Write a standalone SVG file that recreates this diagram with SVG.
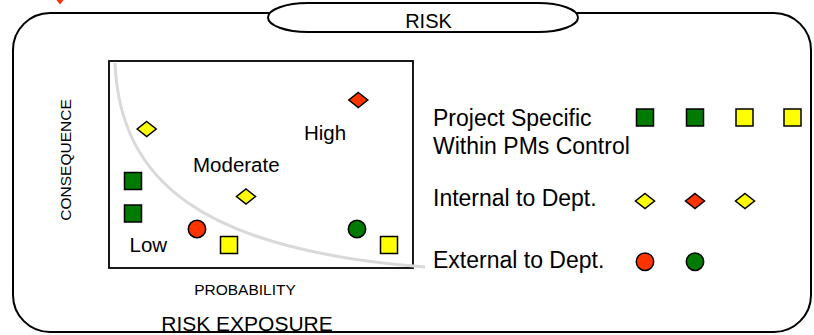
<svg xmlns="http://www.w3.org/2000/svg" width="814" height="335" viewBox="0 0 814 335">
<style>
  text { font-family: "Liberation Sans", Arial, sans-serif; fill: #000; }
  .sq { stroke: #000; stroke-width: 1.5; }
  .g { fill: #007a00; }
  .y { fill: #ffff00; }
  .r { fill: #ff3300; }
  .big { font-size: 23px; }
  .mid { font-size: 20.5px; }
  .small { font-size: 15.5px; }
</style>
<defs>
  <rect id="sqr" x="-8.5" y="-8.5" width="17" height="17"/>
  <polygon id="dia" points="0,-7.5 9.5,0 0,7.5 -9.5,0"/>
  <circle id="cir" r="8.7"/>
</defs>
<rect width="814" height="335" fill="#fff"/>

<path id="red-mark" d="M56.5,0 L60,4.5 L63.5,0 Z" fill="#ff3300"/>

<g id="risk-frame">
  <rect x="13" y="13" width="798" height="319" rx="37" ry="37" fill="none" stroke="#000" stroke-width="2"/>
  <rect x="268" y="3" width="310" height="29" rx="40" ry="14.5" fill="#fff" stroke="#000" stroke-width="2"/>
  <text x="428.5" y="27.5" text-anchor="middle" font-size="20">RISK</text>
  <text x="247" y="331" text-anchor="middle" font-size="21">RISK EXPOSURE</text>
</g>

<g id="exposure-chart">
  <rect x="109" y="61" width="304" height="207" fill="#fff" stroke="#000" stroke-width="1.8"/>
  <path d="M115,63 C120,180 200,250 425,267" fill="none" stroke="#d9d9d9" stroke-width="3"/>
  <text x="70.5" y="160" transform="rotate(-90 70.5 160)" text-anchor="middle" class="small">CONSEQUENCE</text>
  <text x="245" y="295" text-anchor="middle" class="small">PROBABILITY</text>
  <text x="304" y="140" class="mid">High</text>
  <text x="193" y="171.5" class="mid">Moderate</text>
  <text x="129.5" y="251.5" class="mid">Low</text>
</g>

<g id="chart-points">
  <use href="#dia" x="146.7" y="129" class="sq y"/>
  <use href="#dia" x="358.3" y="100" class="sq r"/>
  <use href="#dia" x="246" y="196.5" class="sq y"/>
  <use href="#sqr" x="133" y="181" class="sq g"/>
  <use href="#sqr" x="133" y="213.5" class="sq g"/>
  <use href="#cir" x="197" y="229" class="sq r"/>
  <use href="#cir" x="357" y="229" class="sq g"/>
  <use href="#sqr" x="229" y="245" class="sq y"/>
  <use href="#sqr" x="389" y="245" class="sq y"/>
</g>

<g id="legend-project">
  <text x="433" y="125.7" class="big">Project Specific</text>
  <text x="433" y="154" class="big">Within PMs Control</text>
  <use href="#sqr" x="645" y="117.5" class="sq g"/>
  <use href="#sqr" x="695" y="117.5" class="sq g"/>
  <use href="#sqr" x="744.5" y="117.5" class="sq y"/>
  <use href="#sqr" x="792.5" y="117.5" class="sq y"/>
</g>

<g id="legend-internal">
  <text x="433" y="206" class="big">Internal to Dept.</text>
  <use href="#dia" x="645" y="201" class="sq y"/>
  <use href="#dia" x="695" y="201" class="sq r"/>
  <use href="#dia" x="745" y="201" class="sq y"/>
</g>

<g id="legend-external">
  <text x="433" y="268.3" class="big">External to Dept.</text>
  <use href="#cir" x="645" y="261.7" class="sq r"/>
  <use href="#cir" x="695" y="261.7" class="sq g"/>
</g>

<g id="connectors"/>
</svg>
